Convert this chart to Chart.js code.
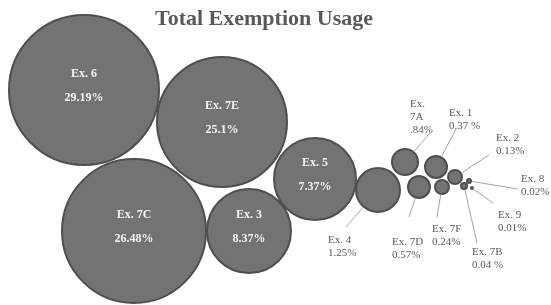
<!DOCTYPE html>
<html>
<head>
<meta charset="utf-8">
<script src="https://cdn.jsdelivr.net/npm/chart.js@4/dist/chart.umd.min.js"></script>
<style>
    html, body { margin: 0; padding: 0; background: #fff; }
    .chart-box { width: 551px; height: 305px; position: relative; }
</style>
</head>
<body>
<div class="chart-box"><canvas id="usage-chart"></canvas></div>
<script>
const exemptions = ['Ex. 6', 'Ex. 7E', 'Ex. 7C', 'Ex. 3', 'Ex. 5', 'Ex. 4', 'Ex. 7A', 'Ex. 1', 'Ex. 7D', 'Ex. 7F', 'Ex. 2', 'Ex. 7B', 'Ex. 8', 'Ex. 9'];
const shares = [29.19, 25.1, 26.48, 8.37, 7.37, 1.25, 0.84, 0.37, 0.57, 0.24, 0.13, 0.04, 0.02, 0.01];
const shareLabels = ['29.19%', '25.1%', '26.48%', '8.37%', '7.37%', '1.25%', '.84%', '0.37 %', '0.57%', '0.24%', '0.13%', '0.04 %', '0.02%', '0.01%'];
const bubbleX = [84, 222, 134, 249, 315, 378, 405, 436, 419, 442, 455, 464, 469, 472];
const bubbleY = [90, 122, 231, 231, 179, 190, 162, 167, 187, 187, 177, 186, 181, 188];
const bubbleR = [76, 66, 73, 43, 42, 23, 14, 12, 12, 8, 8, 4, 3, 2];

const FONT = "'Liberation Serif', 'Times New Roman', serif";

// where the outside labels sit: [text left, first line y, leader end x, leader end y]
const callouts = [
    null, null, null, null, null,
    [328, 240, 346, 227],
    [410, 104, 430, 133],
    [449, 113, 456, 129],
    [392, 242, 409, 217],
    [432, 229, 437, 217],
    [496, 138, 489, 155],
    [472, 252, 477, 243],
    [521, 179, 518, 189],
    [498, 215, 493, 203]
];

const labelPlugin = {
    id: 'bubbleLabels',
    afterDatasetsDraw(chart) {
        const ctx = chart.ctx;
        const points = chart.getDatasetMeta(0).data;
        ctx.save();
        ctx.textBaseline = 'middle';
        points.forEach((pt, i) => {
            const c = callouts[i];
            if (!c) {
                ctx.fillStyle = '#f4f4f4';
                ctx.textAlign = 'center';
                ctx.font = 'bold 12px ' + FONT;
                ctx.fillText(exemptions[i], pt.x, pt.y - 16);
                ctx.fillText(shareLabels[i], pt.x, pt.y + 8);
                return;
            }
            const dx = c[2] - pt.x;
            const dy = c[3] - pt.y;
            const len = Math.sqrt(dx * dx + dy * dy);
            const r = pt.options.radius + 1;
            ctx.strokeStyle = '#a3a3a3';
            ctx.lineWidth = 1;
            ctx.beginPath();
            ctx.moveTo(pt.x + dx / len * r, pt.y + dy / len * r);
            ctx.lineTo(c[2], c[3]);
            ctx.stroke();

            ctx.fillStyle = '#5a5a5a';
            ctx.textAlign = 'left';
            ctx.font = '11px ' + FONT;
            let lines = [exemptions[i], shareLabels[i]];
            if (exemptions[i] === 'Ex. 7A') {
                lines = ['Ex.', '7A', shareLabels[i]];
            }
            lines.forEach((t, k) => ctx.fillText(t, c[0], c[1] + k * 13));
        });

        // title
        ctx.fillStyle = '#595959';
        ctx.textAlign = 'center';
        ctx.textBaseline = 'alphabetic';
        ctx.font = 'bold 22px ' + FONT;
        ctx.fillText('Total Exemption Usage', 264, 25);
        ctx.restore();
    }
};

const canvas = document.getElementById('usage-chart');

new Chart(canvas, {
    type: 'bubble',
    data: {
        labels: exemptions,
        datasets: [{
            label: 'Total Exemption Usage',
            data: shares.map((v, i) => ({x: bubbleX[i], y: bubbleY[i], r: bubbleR[i] - 1, share: v})),
            backgroundColor: '#737373',
            borderColor: '#4f4f4f',
            borderWidth: 2,
            hoverRadius: 0,
            clip: false
        }]
    },
    options: {
        responsive: true,
        maintainAspectRatio: false,
        animation: false,
        layout: {padding: 0, autoPadding: false},
        scales: {
            x: {type: 'linear', min: 0, max: 551, display: false},
            y: {type: 'linear', min: 0, max: 305, reverse: true, display: false}
        },
        plugins: {
            legend: {display: false},
            tooltip: {enabled: false},
            title: {display: false}
        }
    },
    plugins: [labelPlugin]
});
</script>
</body>
</html>
